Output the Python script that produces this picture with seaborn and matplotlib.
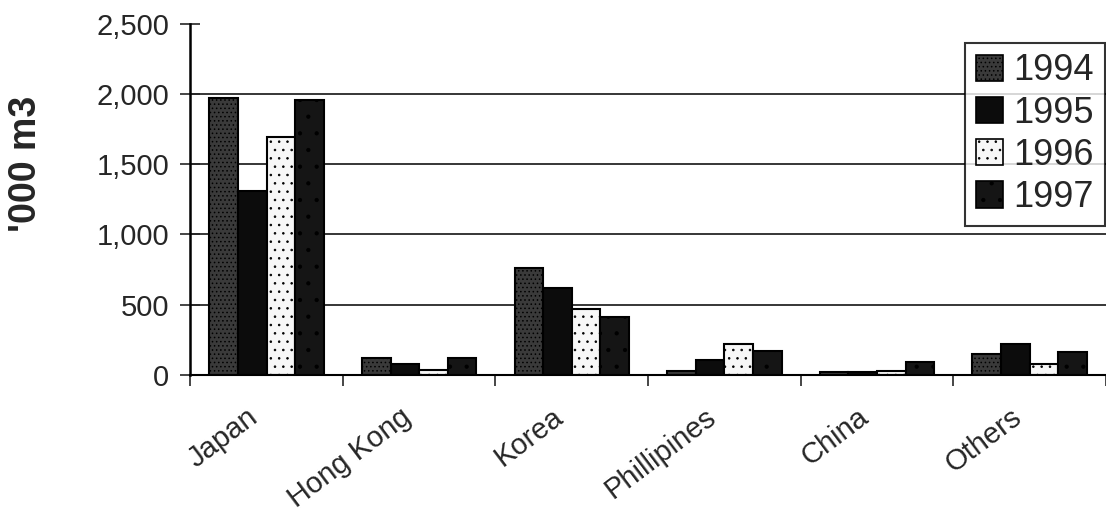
import matplotlib
matplotlib.use("Agg")
import matplotlib.pyplot as plt
import matplotlib.transforms as mtransforms
import seaborn as sns
import pandas as pd
from matplotlib.ticker import FuncFormatter, FixedLocator
from matplotlib.patches import Patch

destinations = ["Japan", "Hong Kong", "Korea", "Phillipines", "China", "Others"]
years = ["1994", "1995", "1996", "1997"]
v1994 = [1970, 120, 760, 30, 20, 150]
v1995 = [1310, 75, 620, 110, 20, 220]
v1996 = [1690, 35, 470, 220, 30, 80]
v1997 = [1960, 120, 410, 170, 90, 160]

df = pd.DataFrame({
    "dest": destinations * 4,
    "year": sum([[y] * len(destinations) for y in years], []),
    "vol": v1994 + v1995 + v1996 + v1997,
})

sns.set_style("white")
plt.rcParams["font.family"] = ["Liberation Sans", "DejaVu Sans"]
plt.rcParams["hatch.color"] = "#8a8a8a"
plt.rcParams["hatch.linewidth"] = 0.6

fills = ["#3a3a3a", "#0c0c0c", "#f7f7f7", "#151515"]
hatches = ["....", "", "..", "."]

fig = plt.figure(figsize=(11.06, 5.19), dpi=100)
ax = fig.add_axes([0.172, 0.2775, 0.828, 0.677])

sns.barplot(data=df, x="dest", y="vol", hue="year", order=destinations,
            hue_order=years, palette=fills, width=0.75, gap=0,
            edgecolor="black", linewidth=1.5, saturation=1, ax=ax, legend=False)

for cont, h in zip(ax.containers, hatches):
    for bar in cont:
        bar.set_hatch(h)

ax.set_xlim(-0.5, 5.5)
ax.set_ylim(0, 2500)
ax.set_yticks([0, 500, 1000, 1500, 2000, 2500])
ax.yaxis.set_major_formatter(FuncFormatter(lambda v, p: f"{int(v):,}"))
ax.set_axisbelow(True)
# horizontal rules inside the plot (no rule at the top of the scale)
for yv in [500, 1000, 1500, 2000]:
    ax.axhline(yv, color="black", linewidth=1.1, zorder=0.5)

for s in ["top", "right"]:
    ax.spines[s].set_visible(False)
ax.spines["left"].set_linewidth(1.8)
ax.spines["bottom"].set_linewidth(1.5)
ax.spines["left"].set_color("black")
ax.spines["bottom"].set_color("black")

ax.tick_params(axis="y", which="major", direction="inout", length=14, width=1.2,
               labelsize=21, pad=8, left=True)
ax.xaxis.set_minor_locator(FixedLocator([i - 0.5 for i in range(7)]))
ax.tick_params(axis="x", which="major", length=0, labelsize=21, pad=20)
ax.tick_params(axis="x", which="minor", direction="out", length=8, width=1.2, bottom=True)
shift = mtransforms.ScaledTranslation(-0.2, 0, fig.dpi_scale_trans)
for lab in ax.get_xticklabels():
    lab.set_rotation(37)
    lab.set_ha("right")
    lab.set_va("top")
    lab.set_rotation_mode("anchor")
    lab.set_transform(lab.get_transform() + shift)

ax.set_xlabel("")
ax.set_ylabel("'000 m3", fontsize=27, fontweight="bold")
ax.yaxis.set_label_coords(-0.16, 0.6)

handles = [Patch(facecolor=c, edgecolor="black", hatch=h, linewidth=1.2)
           for c, h in zip(fills, hatches)]
leg = fig.legend(handles, years, loc="upper right", bbox_to_anchor=(0.999, 0.918),
                 fontsize=26, frameon=True, fancybox=False, edgecolor="black",
                 handlelength=0.75, handleheight=0.75, handletextpad=0.3,
                 labelspacing=0.2, borderpad=0.3, borderaxespad=0)
leg.get_frame().set_linewidth(1.5)

fig.savefig("out.png", dpi=100)
